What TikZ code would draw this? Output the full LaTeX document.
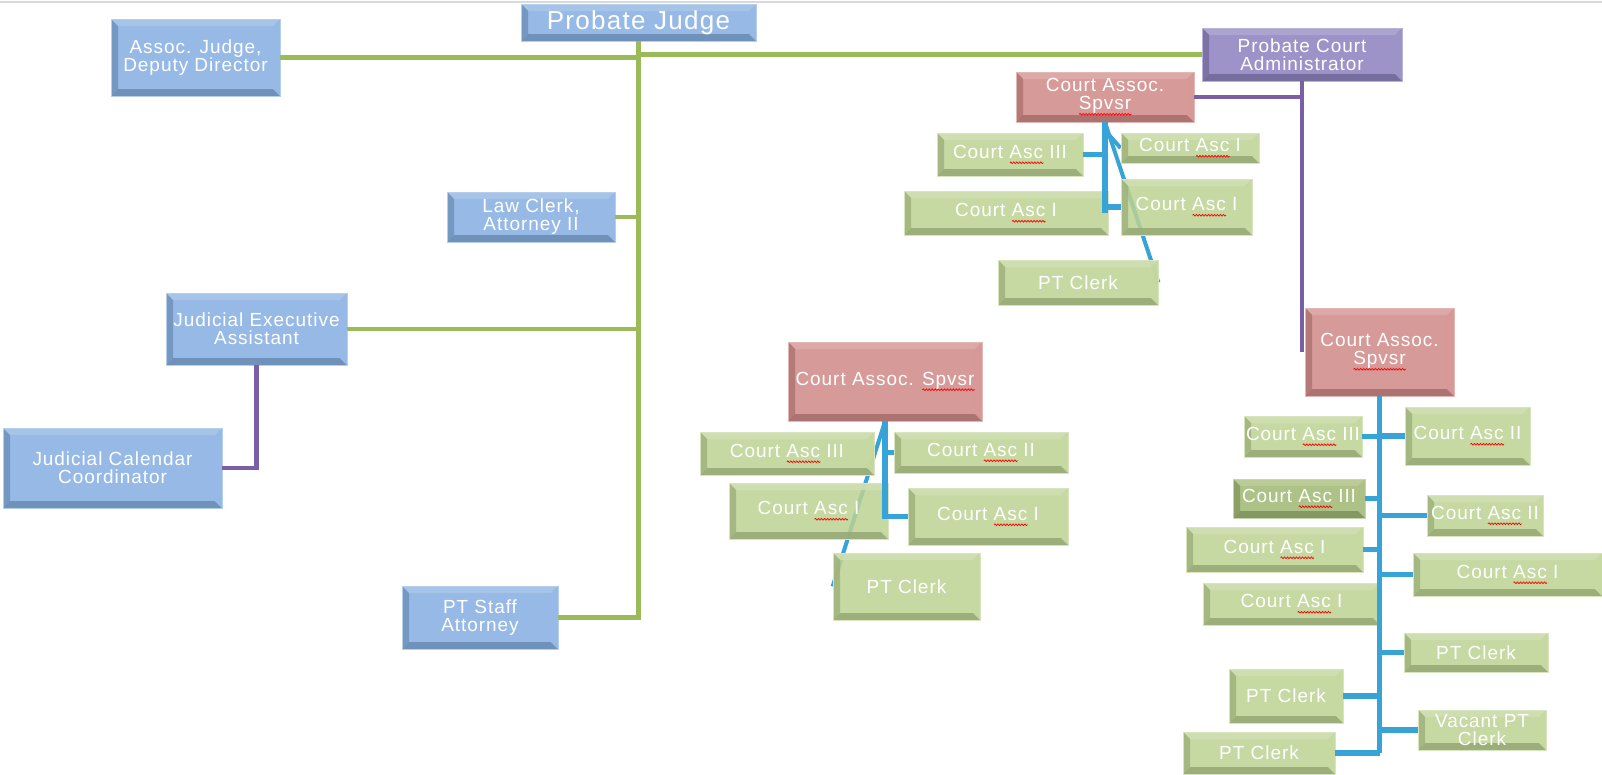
\documentclass[tikz,border=0pt]{standalone}
\usepackage{fontspec}
\setmainfont{Liberation Sans}[LetterSpace=5]
\usetikzlibrary{backgrounds,decorations.pathmorphing}

\definecolor{jblue}{HTML}{84ADE0}
\definecolor{cgreen}{HTML}{BCD292}
\definecolor{cgreendk}{HTML}{9FB771}
\definecolor{sred}{HTML}{CF8886}
\definecolor{apurple}{HTML}{8C80BE}
\definecolor{lgreen}{HTML}{9BBB59}
\definecolor{lpurple}{HTML}{7B5FA6}
\definecolor{lblue}{HTML}{38A3D6}

% red spell-check wave under a word
\newcommand\sq[1]{\setbox0\hbox{#1}\leavevmode\rlap{\tikz[baseline=0pt]\draw[red, line width=0.7pt, decorate, decoration={snake, amplitude=0.9pt, segment length=3pt}] (0pt,-4.5pt) -- (\the\wd0,-4.5pt);}\box0\relax}

\begin{document}
\begin{tikzpicture}[
    x=1pt, y=-1pt,
    wh/.style 2 args={minimum width=#1pt, minimum height=#2pt},
    office/.style={rectangle, inner sep=0pt, align=center, text=white,
        font=\fontsize{19}{18}\selectfont, fill=#1, fill opacity=0.85, text opacity=1,
        draw=#1!60!white, line width=0.8pt,
        path picture={
            \coordinate (p1) at (path picture bounding box.south west);
            \coordinate (p2) at (path picture bounding box.north east);
            \fill[#1!70!white] (p1 |- p2) -- (p2) -- ([shift={(-7pt,-7pt)}]p2) -- ([shift={(7pt,-7pt)}]p1 |- p2) -- cycle;
            \fill[#1!85!black] (p1 |- p2) -- ([shift={(7pt,-7pt)}]p1 |- p2) -- ([shift={(7pt,7pt)}]p1) -- (p1) -- cycle;
            \fill[#1!80!black] (p1) -- ([shift={(7pt,7pt)}]p1) -- ([shift={(-7pt,7pt)}]p2 |- p1) -- (p2 |- p1) -- cycle;
            \fill[#1!85!white] (p2 |- p1) -- ([shift={(-7pt,7pt)}]p2 |- p1) -- ([shift={(-7pt,-7pt)}]p2) -- (p2) -- cycle;
        }},
    bluebox/.style={office=jblue},
    greenbox/.style={office=cgreen},
    darkbox/.style={office=cgreendk},
    redbox/.style={office=sred},
    purplebox/.style={office=apurple},
    gline/.style={lgreen, line width=4.5pt},
    pline/.style={lpurple, line width=4.5pt},
    bline/.style={lblue, line width=5.5pt}
]
    \useasboundingbox (0,0) rectangle (1602,774);
    \draw[black!15, line width=2pt] (0,1.5) -- (1602,1.5);

    % Judge and staff
    \node[bluebox, font=\fontsize{26}{26}\selectfont, wh={235}{37}] (judge) at (638.5,22.5) {Probate Judge};
    \node[bluebox, wh={169}{77}] (assoc) at (195.5,57.5) {Assoc. Judge,\\Deputy Director};
    \node[bluebox, wh={168}{50}] (lawclerk) at (531,217) {Law Clerk,\\Attorney II};
    \node[bluebox, wh={181}{72}] (jea) at (256.5,329) {Judicial Executive\\Assistant};
    \node[bluebox, wh={219}{80}] (jcc) at (112.5,468) {Judicial Calendar\\Coordinator};
    \node[bluebox, wh={156}{63}] (ptstaff) at (480,617.5) {PT Staff\\Attorney};

    % Administrator and supervisors
    \node[purplebox, wh={200}{53}] (admin) at (1302,54.5) {Probate Court\\Administrator};
    \node[redbox, wh={178}{50}] (spvA) at (1105,97) {Court Assoc.\\\sq{Spvsr}};
    \node[redbox, wh={194}{79}] (spvB) at (885,381.5) {Court Assoc. \sq{Spvsr}};
    \node[redbox, wh={149}{88}] (spvC) at (1379.5,352) {Court Assoc.\\\sq{Spvsr}};

    % Staff of the first supervisor
    \node[greenbox, wh={146}{43}] (a1) at (1010,154.5) {Court \sq{Asc} III};
    \node[greenbox, wh={138}{30}] (a2) at (1190,148) {Court \sq{Asc} I};
    \node[greenbox, wh={204}{44}] (a3) at (1006,213) {Court \sq{Asc} I};
    \node[greenbox, wh={131}{56}] (a4) at (1186.5,207) {Court \sq{Asc} I};
    \node[greenbox, wh={160}{45}] (a5) at (1078,282.5) {PT Clerk};

    % Staff of the second supervisor
    \node[greenbox, wh={174}{43}] (b1) at (787,453.5) {Court \sq{Asc} III};
    \node[greenbox, wh={174}{41}] (b2) at (981,452.5) {Court \sq{Asc} II};
    \node[greenbox, wh={159}{56}] (b3) at (808.5,511) {Court \sq{Asc} I};
    \node[greenbox, wh={160}{57}] (b4) at (988,516.5) {Court \sq{Asc} I};
    \node[greenbox, wh={147}{67}] (b5) at (906.5,586.5) {PT Clerk};

    % Staff of the third supervisor
    \node[greenbox, wh={118}{41}] (c1) at (1303,436.5) {Court \sq{Asc} III};
    \node[greenbox, wh={125}{58}] (c2) at (1467.5,436) {Court \sq{Asc} II};
    \node[darkbox, wh={132}{39}] (c3) at (1299,498.5) {Court \sq{Asc} III};
    \node[greenbox, wh={116}{41}] (c4) at (1485,515.5) {Court \sq{Asc} II};
    \node[greenbox, wh={177}{45}] (c5) at (1274.5,549.5) {Court \sq{Asc} I};
    \node[greenbox, wh={189}{43}] (c6) at (1507.5,574.5) {Court \sq{Asc} I};
    \node[greenbox, wh={177}{42}] (c7) at (1291.5,604) {Court \sq{Asc} I};
    \node[greenbox, wh={144}{39}] (c8) at (1476,652.5) {PT Clerk};
    \node[greenbox, wh={114}{54}] (c9) at (1286,696) {PT Clerk};
    \node[greenbox, wh={128}{40}] (c10) at (1482,730) {Vacant PT\\Clerk};
    \node[greenbox, wh={152}{42}] (c11) at (1259,753) {PT Clerk};

    % Judge lines
    \draw[gline] (judge.south) -- (judge.south |- ptstaff.east) -- (ptstaff.east);
    \draw[gline] (assoc.east) -- (assoc.east -| judge.south);
    \draw[gline] (judge.south |- admin.west) -- (admin.west);
    \draw[gline] (lawclerk.east) -- (lawclerk.east -| judge.south);
    \draw[gline] (jea.east) -- (jea.east -| judge.south);
    \draw[pline] (jea.south) |- (jcc.east);

    % Administrator lines
    \draw[pline] (admin.south) -- (admin.south |- spvC.west);
    \draw[pline] (spvA.east) -- (spvA.east -| admin.south);

    % Stray lines behind the boxes
    \coordinate (a2k) at (1109,135);
    \begin{scope}[on background layer]
        \draw[bline, line width=4pt] (spvA.south) -- (a5.east);
        \draw[bline, line width=4pt] (a2k) -- (a2.west);
        \draw[bline, line width=4pt] (spvB.south) -- (b5.west);
    \end{scope}

    % Supervisor lines
    \draw[bline] (spvA.south) -- (spvA.south |- a3.east);
    \draw[bline] (a1.east) -- (a1.east -| spvA.south);
    \draw[bline] (spvA.south |- a4.west) -- (a4.west);
    \draw[bline] (spvB.south) -- (spvB.south |- b4.west) -- (b4.west);
    \draw[bline] (spvB.south |- b2.west) -- (b2.west);
    \draw[bline] (spvC.south) -- (spvC.south |- c11.east);
    \foreach \b in {c1,c3,c5,c9,c11}
        \draw[bline] (\b.east) -- (\b.east -| spvC.south);
    \foreach \b in {c2,c4,c6,c8,c10}
        \draw[bline] (spvC.south |- \b.west) -- (\b.west);
\end{tikzpicture}
\end{document}
